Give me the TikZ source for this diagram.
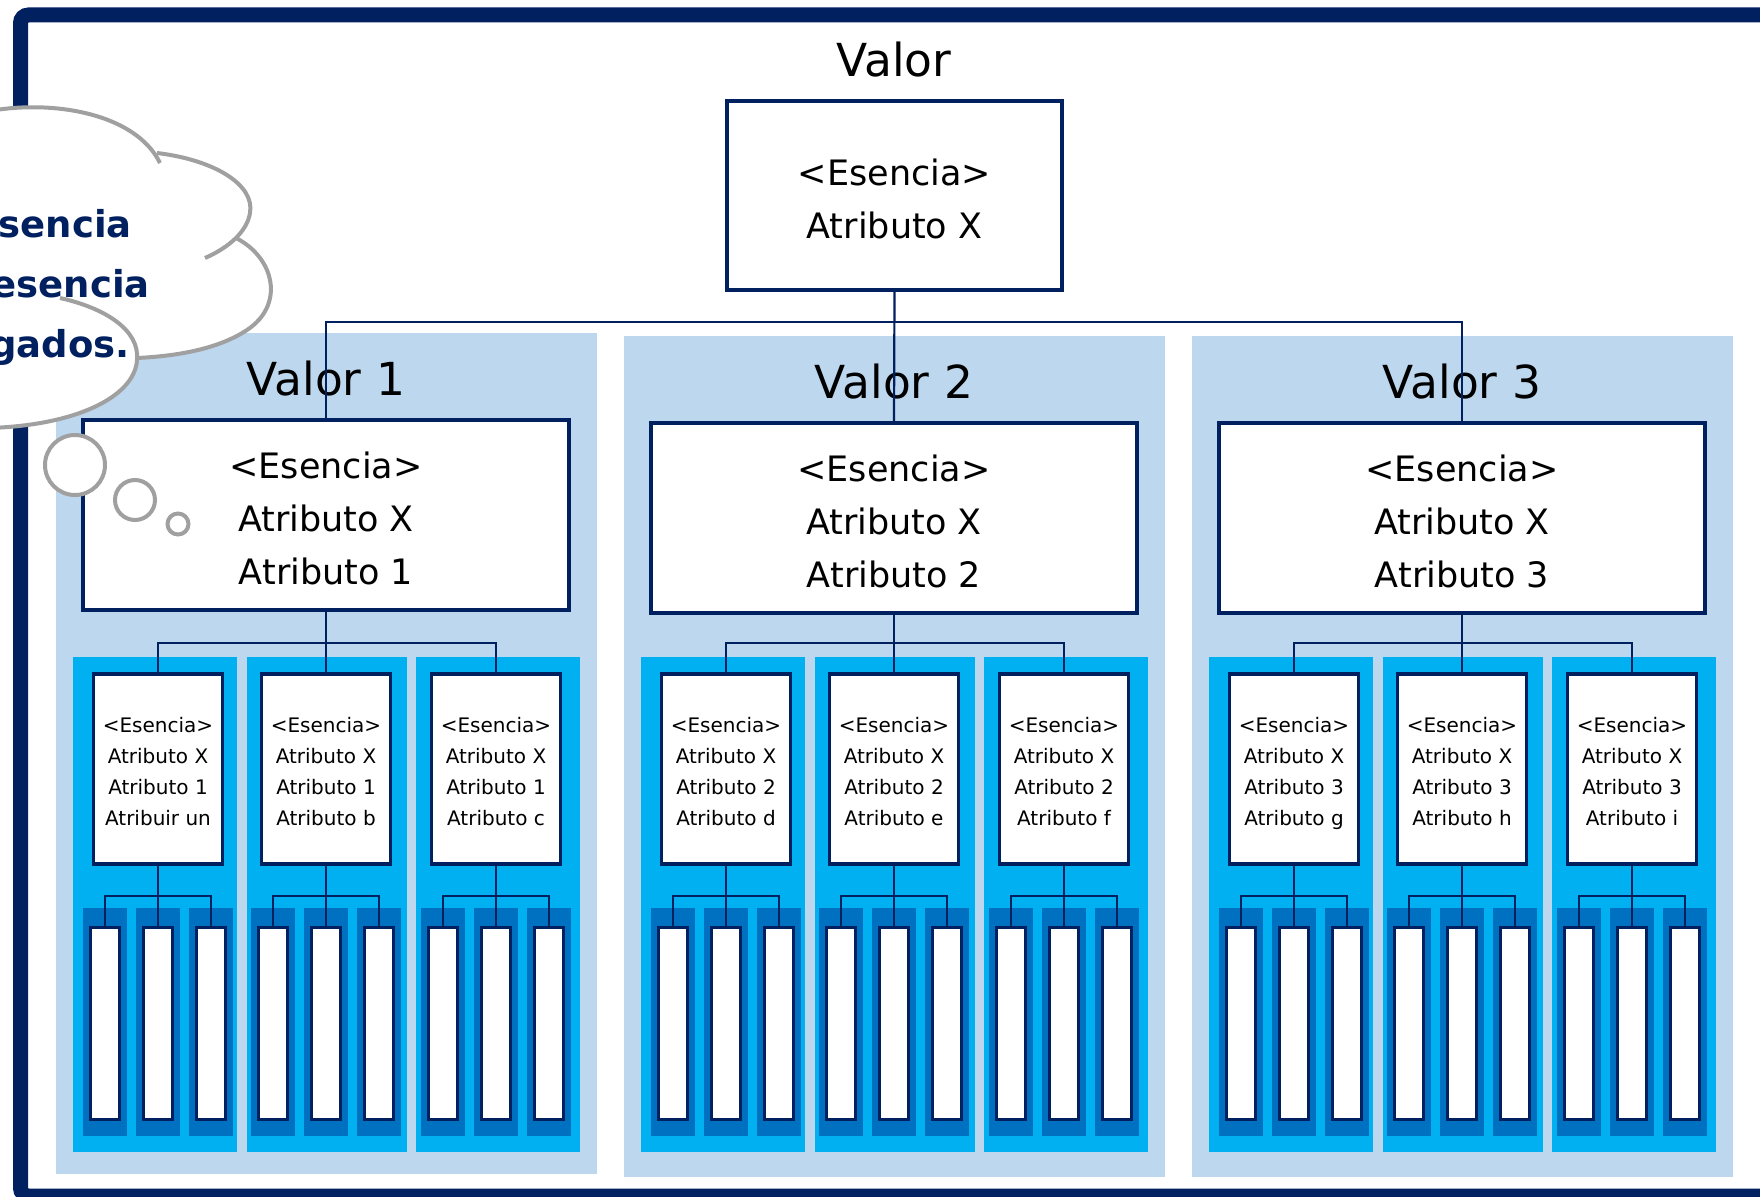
\documentclass[tikz,border=0pt]{standalone}
\usepackage{fontspec}
\setmainfont{DejaVu Sans}
\definecolor{navy}{RGB}{0,32,96}
\definecolor{panelblue}{RGB}{189,215,238}
\definecolor{midblue}{RGB}{0,176,240}
\definecolor{stripblue}{RGB}{0,112,192}
\definecolor{cloudgrey}{RGB}{160,160,160}
\newcommand\zerodp[1]{\raisebox{0pt}[\height][0pt]{#1}}
\tikzset{
  bigbox/.style={draw=navy, line width=3.5pt, fill=white, inner sep=0pt,
    minimum width=486pt, minimum height=190pt, align=center,
    font=\fontsize{35}{53}\selectfont},
  topbox/.style={bigbox, minimum width=335pt, minimum height=189pt},
  smallbox/.style={draw=navy, line width=3.8pt, fill=white, inner sep=0pt,
    minimum width=129pt, minimum height=190pt, align=center,
    font=\fontsize{20}{30.7}\selectfont},
  barbox/.style={draw=navy, line width=3.3pt, fill=white, inner sep=0pt,
    minimum width=29pt, minimum height=192pt},
  conn/.style={draw=navy, line width=2.2pt},
  titletext/.style={font=\fontsize{45.5}{54}\selectfont, inner sep=0pt, anchor=base},
  cloudline/.style={draw=cloudgrey, line width=4pt},
  cloudtext/.style={font=\fontsize{37}{44}\selectfont\bfseries, text=navy,
    inner sep=0pt, anchor=base east},
}
\begin{document}
\begin{tikzpicture}[x=1pt,y=-1pt]
\useasboundingbox (0,0) rectangle (1760,1196);
\clip (0,0) rectangle (1760,1196);
% frame
\draw[navy, line width=15pt, rounded corners=8pt] (20.5,15) rectangle (1800,1196);
% title
\node[titletext] (V0) at (894,77) {Valor};
\node[topbox] (T) at (894.5,195.5) {\rule{0pt}{34pt}<Esencia>\\Atributo X};
% panels
\foreach \p/\cx/\dy/\la/\lb/\lc in {1/326/-3/Atribuir un/Atributo b/Atributo c,%
2/894/0/Atributo d/Atributo e/Atributo f,%
3/1462/0/Atributo g/Atributo h/Atributo i}{
  \fill[panelblue] ({\cx-270.5},{336+(\dy)}) rectangle ({\cx+270.5},{1177+(\dy)});
  \foreach \off/\w in {-171/164,1/160,172/164}{
    \fill[midblue] ({\cx+(\off)-\w/2},657) rectangle ({\cx+(\off)+\w/2},1152);
  }
  \node[titletext] (V\p) at (\cx,{398+(\dy)}) {Valor \p};
  \node[bigbox] (B\p) at (\cx,{518+(\dy)}) {\rule{0pt}{34pt}<Esencia>\\Atributo X\\Atributo \p};
  \foreach \c/\so/\ta in {1/-168/\la,2/0/\lb,3/170/\lc}{
    \node[smallbox] (S\p\c) at ({\cx+(\so)},769)
      {\rule{0pt}{20pt}<Esencia>\\Atributo X\\Atributo \p\\\zerodp{\ta}};
    \foreach \k/\bo in {1/-53,2/0,3/53}{
      \fill[stripblue] ({\cx+(\so)+(\bo)-22},908) rectangle ({\cx+(\so)+(\bo)+22},1136);
      \node[barbox] (R\p\c\k) at ({\cx+(\so)+(\bo)},1023.5) {};
    }
    \coordinate (K\p\c) at ({\cx+(\so)},896);
    \draw[conn] (S\p\c.south) -- (R\p\c2.north);
    \draw[conn] (R\p\c1.north) |- (K\p\c) -| (R\p\c3.north);
  }
  \coordinate (J\p) at (\cx,643);
  \draw[conn] (B\p.south) -- (S\p2.north);
  \draw[conn] (S\p1.north) |- (J\p) -| (S\p3.north);
}
% top connectors
\coordinate (J0) at (894,322);
\draw[conn] (T.south) -- (B2.north);
\draw[conn] (B1.north) |- (J0) -| (B3.north);
% cloud
\fill[white] (-10,111) .. controls (50,100) and (130,115) .. (158,152)
  .. controls (215,160) and (255,185) .. (250,213)
  .. controls (249,225) and (243,232) .. (236,238)
  .. controls (275,258) and (285,305) .. (247,330)
  .. controls (220,348) and (180,356) .. (137,358)
  .. controls (135,395) and (80,425) .. (-10,428) -- cycle;
\node[cloudtext] (c1) at (132,237) {sencia};
\node[cloudtext] (c2) at (150,297) {esencia};
\node[cloudtext] (c3) at (130,357) {gados.};
\draw[cloudline] (-10,111) .. controls (50,100) and (135,112) .. (160,163);
\draw[cloudline] (157,153) .. controls (215,160) and (255,185) .. (250,213)
  .. controls (247,232) and (228,248) .. (205,258);
\draw[cloudline] (236,238) .. controls (275,258) and (285,305) .. (247,330)
  .. controls (220,348) and (180,356) .. (137,358);
\draw[cloudline] (60,298) .. controls (105,308) and (140,330) .. (137,360)
  .. controls (135,395) and (80,425) .. (-10,428);
\draw[cloudline, fill=white] (75,465) circle (30pt);
\draw[cloudline, fill=white] (135,500) circle (20pt);
\draw[cloudline, fill=white] (178,524) circle (10.5pt);
\end{tikzpicture}
\end{document}
